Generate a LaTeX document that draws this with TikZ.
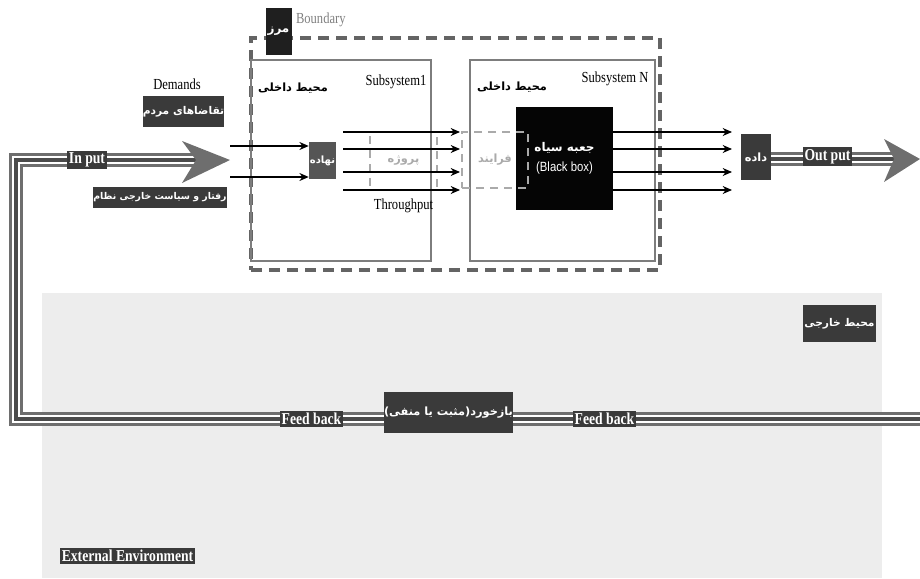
\documentclass[tikz,border=0pt]{standalone}
\usepackage{fontspec}
\setmainfont{Liberation Serif}[FakeStretch=0.82]
\newfontfamily\boxsans{Liberation Sans}[FakeStretch=0.85]
\newfontfamily\farsi[Script=Arabic]{DejaVu Sans}
\TeXXeTstate=1
\newcommand{\fa}[1]{{\farsi\beginR #1\endR}}
\usetikzlibrary{
    positioning,                      % right=of, below=of, etc.
    arrows.meta,                      % puntas (Stealth)
    calc                              % aritmetica de coordenadas
}
\definecolor{label_dark}{RGB}{58,58,58}
\definecolor{input_gray}{RGB}{85,85,85}
\definecolor{pipe_gray}{RGB}{110,110,110}
\definecolor{pipe_core}{RGB}{75,75,75}
\definecolor{boundary_gray}{RGB}{100,100,100}
\definecolor{frame_gray}{RGB}{125,125,125}
\definecolor{proc_gray}{RGB}{170,170,170}
\definecolor{env_light}{RGB}{237,237,237}
\tikzset{
    tag/.style={
        fill=label_dark, text=white, font=\bfseries\fontsize{12.5}{13}\selectfont,
        inner sep=1.5pt
    },
    fatag/.style={
        fill=label_dark, text=white, font=\bfseries\fontsize{8}{10}\selectfont,
        inner sep=0pt, align=center
    },
    subsys/.style={
        rectangle, draw=frame_gray, line width=1pt
    },
    procbox/.style={
        rectangle, draw=proc_gray, line width=1.6pt, dash pattern=on 6pt off 4.5pt
    },
    plain/.style={
        font=\fontsize{11.5}{13}\selectfont, inner sep=0pt
    },
    arrow/.style={
        -{Stealth[length=7pt,width=6pt]}, line width=1pt
    },
    pipe/.style={
        draw=pipe_gray, line width=10.5pt,
        postaction={draw=white, line width=6.5pt},
        postaction={draw=pipe_core, line width=2.6pt}
    },
    bighead/.style={
        fill=pipe_gray
    }
}

\begin{document}
\begin{tikzpicture}[x=0.75pt, y=-0.75pt]
    \useasboundingbox (0,0) rectangle (920,578);

    % --- Entorno externo ---
    \fill[env_light] (42,293) rectangle (882,578);

    % --- Puntos de la tuberia ---
    \coordinate (inStart) at (16,160);
    \coordinate (inNotch) at (196,160);
    \coordinate (inTip) at (230,160);
    \coordinate (fbCorner) at (16,419);
    \coordinate (fbEnd) at (920,419);
    \coordinate (outNotch) at (897,159);
    \coordinate (outTip) at (920,159);

    % Retroalimentacion y entrada en un solo trazo
    \draw[pipe, line join=miter] (fbEnd) -- (fbCorner) -- (inStart) -- (inNotch);
    \fill[bighead] (inTip) -- ++(-48,-19) -- ++(14,19) -- ++(-14,23) -- cycle;

    % --- Limite del sistema ---
    \node[rectangle, draw=boundary_gray, line width=2.5pt, dash pattern=on 8pt off 5.5pt,
        minimum width=306.75pt, minimum height=174pt] (boundary) at (455.5,154) {};
    \node[fill=black!88, text=white, font=\bfseries\fontsize{9}{10}\selectfont,
        minimum width=19.5pt, minimum height=35.25pt, inner sep=0pt] (marz)
        at (278.5,31.5) {\fa{مرز}};
    \node[plain, text=gray, right=3pt of marz.north east, anchor=west, yshift=-9pt] (boundlbl)
        {Boundary};

    % --- Subsistemas ---
    \node[subsys, minimum width=135pt, minimum height=150.75pt] (sub1) at (341,160.5) {};
    \node[subsys, minimum width=138.75pt, minimum height=150.75pt] (subN) at (562.5,160.5) {};
    \node[font=\bfseries\fontsize{8.5}{10}\selectfont] (inner1) at (293,88) {\fa{محیط داخلی}};
    \node[plain] (sub1lbl) at (396,82) {Subsystem1};
    \node[font=\bfseries\fontsize{8.5}{10}\selectfont] (innerN) at (512,87) {\fa{محیط داخلی}};
    \node[plain] (subNlbl) at (615,79) {Subsystem N};

    % --- Procesos (cajas punteadas) ---
    \node[procbox, minimum width=50.25pt, minimum height=43.5pt] (proc1) at (403.5,161) {};
    \node[text=proc_gray, font=\bfseries\fontsize{8.5}{9}\selectfont] at (proc1) {\fa{پروژه}};
    \node[fill=black!98, minimum width=72.75pt, minimum height=77.25pt, align=center,
        text=white, inner sep=0pt] (blackbox) at (564.5,158.5)
        {{\bfseries\fontsize{9}{11}\selectfont\fa{جعبه سیاه}}\\[3pt]
         {\boxsans\fontsize{10}{11}\selectfont (Black box)}};
    \node[procbox, minimum width=49.5pt, minimum height=42pt] (proc2) at (495,160) {};
    \node[text=proc_gray, font=\bfseries\fontsize{8.5}{9}\selectfont] at (proc2) {\fa{فرایند}};
    \node[plain, below=6pt of proc1.south] (thru) {Throughput};

    % --- Entradas ---
    \node[plain] (demands) at (177,84) {Demands};
    \node[fatag, minimum width=51.75pt, minimum height=23.25pt] (taghaza) at (183.5,111.5)
        {\fa{تقاضاهای مردم}};
    \node[fatag, font=\bfseries\fontsize{7}{8}\selectfont, minimum width=87pt,
        minimum height=15.75pt] (raftar) at (160,197.5) {\fa{رفتار و سیاست خارجی نظام}};
    \node[tag] (inlbl) at (87,160) {In put};
    \node[fill=input_gray, text=white, font=\bfseries\fontsize{7.5}{8}\selectfont,
        minimum width=20.25pt, minimum height=27.75pt, inner sep=0pt] (nahade)
        at (322.5,160.5) {\fa{نهاده}};

    \coordinate (inA) at (230,146);
    \coordinate (inB) at (230,177);
    \draw[arrow] (inA) -- (inA -| nahade.west);
    \draw[arrow] (inB) -- (inB -| nahade.west);

    % --- Flujo interno y salida ---
    \coordinate (fanIn) at (343,161);
    \coordinate (fanOut) at (460,161);
    \coordinate (bbOut) at (blackbox.east |- fanIn);
    \coordinate (outFan) at (732,161);
    \foreach \dy in {21.75,9,-8.25,-21.75} {
        \draw[arrow] ([yshift=\dy pt]fanIn) -- ([yshift=\dy pt]fanOut);
        \draw[arrow] ([yshift=\dy pt]bbOut) -- ([yshift=\dy pt]outFan);
    }

    \node[fatag, font=\bfseries\fontsize{8.5}{9}\selectfont, minimum width=22.5pt,
        minimum height=34.5pt] (dade) at (756,157) {\fa{داده}};
    \draw[pipe] (dade.east |- outNotch) -- (outNotch);
    \fill[bighead] (outTip) -- ++(-36,-20) -- ++(10,20) -- ++(-10,23) -- cycle;
    \node[tag] (outlbl) at (827.5,156.5) {Out put};

    % --- Retroalimentacion ---
    \node[tag] (fb1) at (311.5,419) {Feed back};
    \node[tag] (fb2) at (604.5,419) {Feed back};
    \node[fatag, font=\bfseries\fontsize{8.5}{10}\selectfont, minimum width=95.25pt,
        minimum height=30.75pt] (bazkhord) at (448.5,412.5) {\fa{بازخورد(مثبت یا منفی)}};

    % --- Etiquetas del entorno ---
    \node[fatag, minimum width=54.75pt, minimum height=27.75pt] (kharji) at (839.5,323.5)
        {\fa{محیط خارجی}};
    \node[tag] (extenv) at (127.5,556) {External Environment};
\end{tikzpicture}
\end{document}
